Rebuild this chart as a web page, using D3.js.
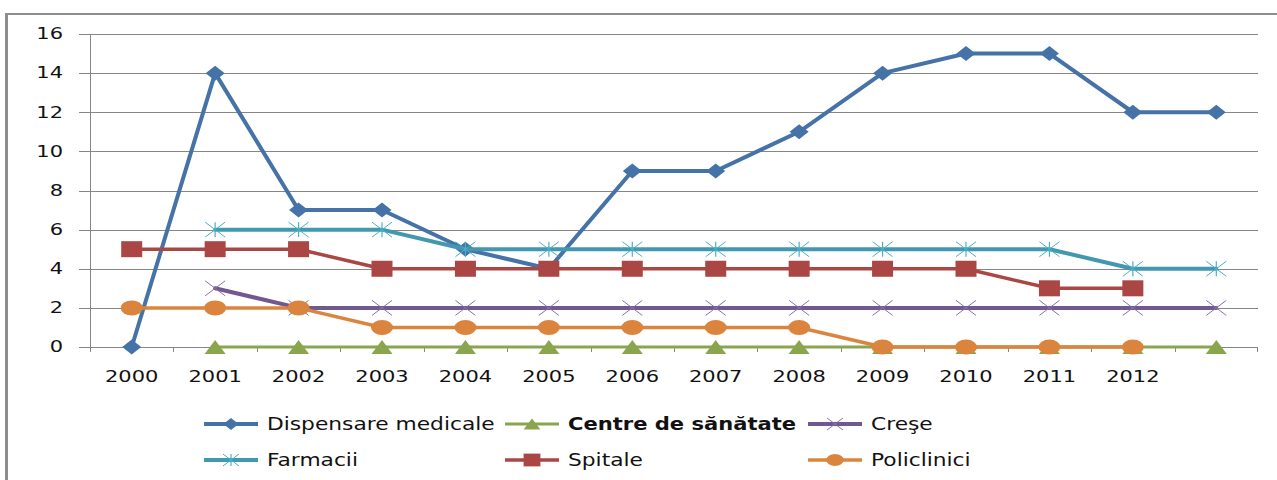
<!DOCTYPE html>
<html><head><meta charset="utf-8">
<script src="https://cdn.jsdelivr.net/npm/d3@7"></script>
<style>body{margin:0;background:#fff} svg{display:block}</style>
</head><body><svg id="c" width="1277" height="480"></svg>
<script>
// ---- data ----
const categories = ["2000","2001","2002","2003","2004","2005","2006","2007","2008","2009","2010","2011","2012",""];
const yTicks = [0,2,4,6,8,10,12,14,16];
const seriesNames = ["Dispensare medicale","Centre de sănătate","Creşe","Farmacii","Spitale","Policlinici"];
const dispensare  = [0,14,7,7,5,4,9,9,11,14,15,15,12,12];
const centre      = [null,0,0,0,0,0,0,0,0,0,0,0,0,0];
const crese       = [null,3,2,2,2,2,2,2,2,2,2,2,2,2];
const farmacii    = [null,6,6,6,5,5,5,5,5,5,5,5,4,4];
const spitale     = [5,5,5,4,4,4,4,4,4,4,4,3,3,null];
const policlinici = [2,2,2,1,1,1,1,1,1,0,0,0,0,null];

// ---- styles ----
const styles = [
  {values: dispensare,  color:"#4572A7", mcolor:"#4572A7", marker:"diamond", width:4},
  {values: centre,      color:"#89A54E", mcolor:"#89A54E", marker:"triangle", width:3},
  {values: crese,       color:"#71588F", mcolor:"#8A70AC", marker:"x", width:4},
  {values: farmacii,    color:"#4198AF", mcolor:"#4BAFC8", marker:"star", width:4},
  {values: spitale,     color:"#AA4643", mcolor:"#AA4643", marker:"square", width:3.5},
  {values: policlinici, color:"#DB843D", mcolor:"#DB843D", marker:"circle", width:3.5}
];

const svg = d3.select("#c");
const x = d3.scaleBand().domain(categories.map((c,i)=>i)).range([90,1258]).padding(0);
const cx = i => x(i) + x.bandwidth()/2;
const y = d3.scaleLinear().domain([0,16]).range([347,34]);

// border
svg.append("line").attr("x1",6.5).attr("x2",6.5).attr("y1",13).attr("y2",480).attr("stroke","#8e8e8e").attr("stroke-width",3);
svg.append("line").attr("x1",5).attr("x2",1277).attr("y1",14).attr("y2",14).attr("stroke","#8e8e8e").attr("stroke-width",2);

// gridlines + y labels
const gAxisY = svg.append("g");
yTicks.forEach(t=>{
  gAxisY.append("line").attr("x1",79).attr("x2",1258).attr("y1",Math.round(y(t))+0.5).attr("y2",Math.round(y(t))+0.5)
    .attr("stroke","#868686").attr("stroke-width",1);
  gAxisY.append("text").attr("transform",`translate(63,${y(t)}) scale(1.4,1)`)
    .attr("text-anchor","end").attr("dominant-baseline","central")
    .attr("font-family","DejaVu Sans").attr("font-size",15).attr("fill","#111").text(t);
});
svg.append("line").attr("x1",90.5).attr("x2",90.5).attr("y1",y(16)).attr("y2",y(0)).attr("stroke","#868686");
// x ticks at boundaries
categories.forEach((c,i)=>{
  svg.append("line").attr("x1",Math.round(x(i))+0.5).attr("x2",Math.round(x(i))+0.5).attr("y1",y(0)).attr("y2",y(0)+5).attr("stroke","#868686");
});
svg.append("line").attr("x1",1257.5).attr("x2",1257.5).attr("y1",y(0)).attr("y2",y(0)+5).attr("stroke","#868686");
categories.forEach((c,i)=>{
  svg.append("text").attr("transform",`translate(${cx(i)},377) scale(1.4,1)`)
    .attr("text-anchor","middle").attr("dominant-baseline","central")
    .attr("font-family","DejaVu Sans").attr("font-size",15).attr("fill","#111").text(c);
});

// markers
function drawMarker(g, type, px, py, col, s){
  s = s || 1;
  if(type==="diamond"){
    g.append("path").attr("d",`M${px-9.5*s},${py}L${px},${py-7.5*s}L${px+9.5*s},${py}L${px},${py+7.5*s}Z`).attr("fill",col);
  } else if(type==="triangle"){
    g.append("path").attr("d",`M${px-10.5*s},${py+7*s}L${px},${py-7*s}L${px+10.5*s},${py+7*s}Z`).attr("fill",col);
  } else if(type==="square"){
    g.append("rect").attr("x",px-10.5*s).attr("y",py-8*s).attr("width",21*s).attr("height",16*s).attr("fill",col);
  } else if(type==="circle"){
    g.append("ellipse").attr("cx",px).attr("cy",py).attr("rx",11*s).attr("ry",7.5*s).attr("fill",col);
  } else if(type==="x" || type==="star"){
    g.append("path").attr("d",`M${px-10*s},${py-7.5*s}L${px+10*s},${py+7.5*s}M${px-10*s},${py+7.5*s}L${px+10*s},${py-7.5*s}`)
      .attr("stroke",col).attr("stroke-width",1).attr("fill","none");
    if(type==="star") g.append("path").attr("d",`M${px},${py-7.5*s}L${px},${py+7.5*s}`).attr("stroke",col).attr("stroke-width",1.2);
  }
}

const line = d3.line().defined(d=>d!=null).x((d,i)=>cx(i)).y(d=>y(d));
styles.forEach(st=>{
  const g = svg.append("g");
  g.append("path").datum(st.values).attr("d",line).attr("fill","none").attr("stroke",st.color)
    .attr("stroke-width",st.width).attr("stroke-linejoin","round").attr("stroke-linecap","round");
  st.values.forEach((v,i)=>{ if(v!=null) drawMarker(g, st.marker, cx(i), y(v), st.marker==="x"||st.marker==="star"?st.mcolor:st.color); });
});

// legend
const legendCols = [204, 505, 808];
const legendRows = [424, 460];
seriesNames.forEach((name,k)=>{
  const st = styles[k];
  const lx = legendCols[k%3], ly = legendRows[Math.floor(k/3)];
  const g = svg.append("g");
  g.append("line").attr("x1",lx).attr("x2",lx+54).attr("y1",ly).attr("y2",ly).attr("stroke",st.color).attr("stroke-width",st.width);
  drawMarker(g, st.marker, lx+27, ly, st.marker==="x"||st.marker==="star"?st.mcolor:st.color, 0.8);
  g.append("text").attr("transform",`translate(${lx+63},${ly}) scale(${k===1?1.24:1.28},1)`)
    .attr("dominant-baseline","central").attr("font-family","DejaVu Sans").attr("font-size",17)
    .attr("font-weight", k===1?"bold":"normal").attr("fill","#111").text(name);
});
</script></body></html>
